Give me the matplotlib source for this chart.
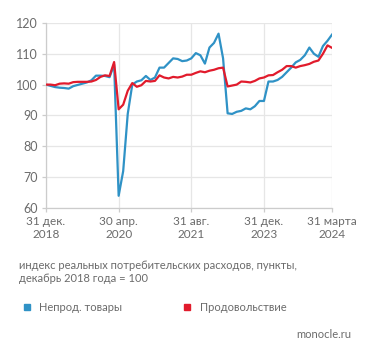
import matplotlib.pyplot as plt
from matplotlib.lines import Line2D

# monthly index, Dec 2018 .. Mar 2024 (Dec 2018 = 100)
nonfood = [100.0, 99.6, 99.2, 99.0, 98.9, 98.7, 99.5, 99.9, 100.3, 100.7,
           101.4, 102.9, 102.9, 102.8, 102.4, 106.5, 64.0, 72.0, 90.5, 100.0,
           101.0, 101.4, 102.8, 101.5, 102.3, 105.5, 105.5, 107.0, 108.5, 108.3,
           107.6, 107.8, 108.5, 110.2, 109.5, 106.8, 112.0, 113.5, 116.5, 108.5,
           90.7, 90.5, 91.2, 91.5, 92.3, 92.0, 93.0, 94.7, 94.7, 101.0,
           101.0, 101.5, 102.5, 104.0, 105.5, 107.2, 108.0, 109.5, 112.0, 110.0,
           109.0, 112.5, 114.2, 116.2]
food = [100.0, 100.0, 99.8, 100.3, 100.4, 100.3, 100.8, 100.9, 100.9, 100.9,
        101.0, 101.5, 102.5, 103.0, 102.8, 107.3, 92.0, 93.5, 98.0, 100.5,
        99.3, 99.8, 101.2, 101.0, 101.2, 103.0, 102.3, 102.0, 102.5, 102.3,
        102.6, 103.2, 103.2, 103.8, 104.3, 104.0, 104.5, 104.8, 105.3, 105.5,
        99.4, 99.7, 100.0, 101.0, 100.9, 100.7, 101.2, 102.0, 102.3, 103.0,
        103.1, 104.0, 104.8, 106.0, 106.0, 105.5, 106.0, 106.3, 106.7, 107.4,
        107.8, 110.0, 112.7, 111.9]
tick_pos = [0, 16, 32, 48, 63]
tick_labels = ["31 дек.\n2018", "30 апр.\n2020", "31 авг.\n2021",
               "31 дек.\n2023", "31 марта\n2024"]
y_ticks = [60, 70, 80, 90, 100, 110, 120]

blue = "#2f92c6"
red = "#e11b2c"
grey = "#6b6b6b"

plt.rcParams['font.family'] = ['Lato', 'DejaVu Sans']

fig = plt.figure(figsize=(3.71, 3.57), dpi=100)
ax = fig.add_axes([0.124, 0.417, 0.771, 0.519])

x = list(range(len(nonfood)))
ax.plot(x, nonfood, color=blue, lw=1.6, zorder=2)
ax.plot(x, food, color=red, lw=1.6, zorder=3)

ax.set_xlim(0, 63)
ax.set_ylim(60, 120)
ax.set_xticks(tick_pos)
ax.set_xticklabels(tick_labels)
ax.set_yticks(y_ticks)
ax.grid(True, color="#e6e6e6", lw=0.9)
ax.set_axisbelow(True)
for s in ["top", "right"]:
    ax.spines[s].set_visible(False)
for s in ["left", "bottom"]:
    ax.spines[s].set_color("#cccccc")
    ax.spines[s].set_linewidth(0.9)
ax.tick_params(colors="#cccccc", labelcolor=grey, labelsize=9, length=3, width=0.9)
ax.tick_params(axis="x", labelsize=8.5, pad=3)
ax.tick_params(axis="y", pad=3)

fig.text(0.051, 0.239, "индекс реальных потребительских расходов, пункты,\nдекабрь 2018 года = 100",
         color=grey, fontsize=8, linespacing=1.25, va="center")

handles = [Line2D([], [], marker="s", ls="", color=blue, markersize=5),
           Line2D([], [], marker="s", ls="", color=red, markersize=5)]
fig.legend(handles, ["Непрод. товары", "Продовольствие"], loc="center left",
           bbox_to_anchor=(0.03, 0.138), ncol=2, frameon=False, fontsize=8,
           labelcolor=grey, columnspacing=5.4, handletextpad=0.6, handlelength=1)

fig.text(0.948, 0.062, "monocle.ru", color=grey, fontsize=8, ha="right", va="center")

fig.savefig("out.png", dpi=100)
